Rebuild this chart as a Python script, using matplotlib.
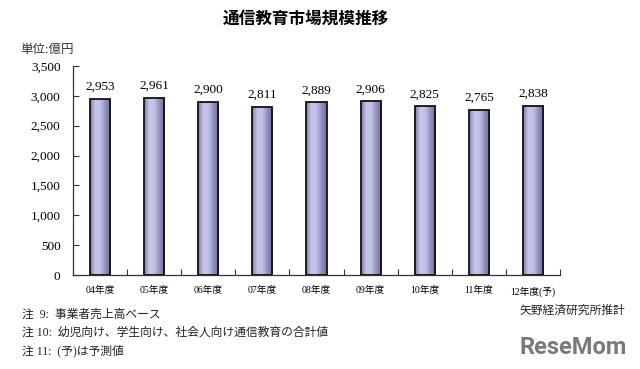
import numpy as np
import matplotlib.pyplot as plt
from matplotlib.colors import LinearSegmentedColormap

plt.rcParams['font.family'] = ['Liberation Serif', 'Noto Sans CJK JP']

categories = ['04年度', '05年度', '06年度', '07年度', '08年度', '09年度', '10年度', '11年度', '12年度(予)']
values = [2953, 2961, 2900, 2811, 2889, 2906, 2825, 2765, 2838]
notes = ['注  9:  事業者売上高ベース',
         '注 10:  幼児向け、学生向け、社会人向け通信教育の合計値',
         '注 11:  (予)は予測値']

fig = plt.figure(figsize=(6.4, 3.69), dpi=100)
ax = fig.add_axes([73/640, 1-275/369, 487/640, 209/369])

x = np.arange(len(categories))
width = 0.37
bars = ax.bar(x, values, width=width, facecolor='none', edgecolor='#111111', linewidth=1.3, zorder=3)

# horizontal shading inside each bar
cmap = LinearSegmentedColormap.from_list('bar', ['#7c7caa', '#c6c6ea', '#c0c0e4', '#9090c0', '#6c6c9a'])
grad = np.linspace(0, 1, 64).reshape(1, -1)
for b in bars:
    im = ax.imshow(grad, cmap=cmap, aspect='auto', zorder=2,
                   extent=[b.get_x(), b.get_x() + b.get_width(), 0, b.get_height()])
    im.set_clip_path(b)

for xi, v in zip(x, values):
    ax.text(xi, v + 100, f'{v:,}', ha='center', va='bottom', fontsize=9.5)

ax.set_xlim(-0.5, len(categories) - 0.5)
ax.set_ylim(0, 3500)
ax.set_yticks(np.arange(0, 3501, 500))
ax.set_yticklabels([f'{t:,}' for t in range(0, 3501, 500)], fontsize=9.5)
ax.set_xticks(np.arange(-0.5, len(categories) + 0.5, 1))
ax.set_xticklabels([])
ax.set_xticks(x, minor=True)
ax.set_xticklabels(categories, minor=True, fontsize=7)
ax.tick_params(axis='x', which='major', direction='in', length=4, color='#333333')
ax.tick_params(axis='x', which='minor', length=0, pad=8)
ax.tick_params(axis='y', direction='in', length=4, pad=9, color='#333333')
for s in ['top', 'right']:
    ax.spines[s].set_visible(False)
for s in ['left', 'bottom']:
    ax.spines[s].set_color('#333333')
    ax.spines[s].set_linewidth(0.9)

fig.text(306/640, 1-20/369, '通信教育市場規模推移', ha='center', va='center', fontsize=12, fontweight='bold')
fig.text(20/640, 1-50/369, '単位:億円', ha='left', va='center', fontsize=9, color='#333333')
for i, n in enumerate(notes):
    fig.text(22/640, 1-(315+18*i)/369, n, ha='left', va='center', fontsize=8.5, color='#222222')
fig.text(625/640, 1-311/369, '矢野経済研究所推計', ha='right', va='center', fontsize=8.5, color='#222222')
fig.text(627/640, 1-347/369, 'ReseMom', ha='right', va='center', fontsize=17, fontweight='bold',
         color='#7a7a7a', family=['Roboto', 'DejaVu Sans'])

fig.savefig('out.png', dpi=100)
